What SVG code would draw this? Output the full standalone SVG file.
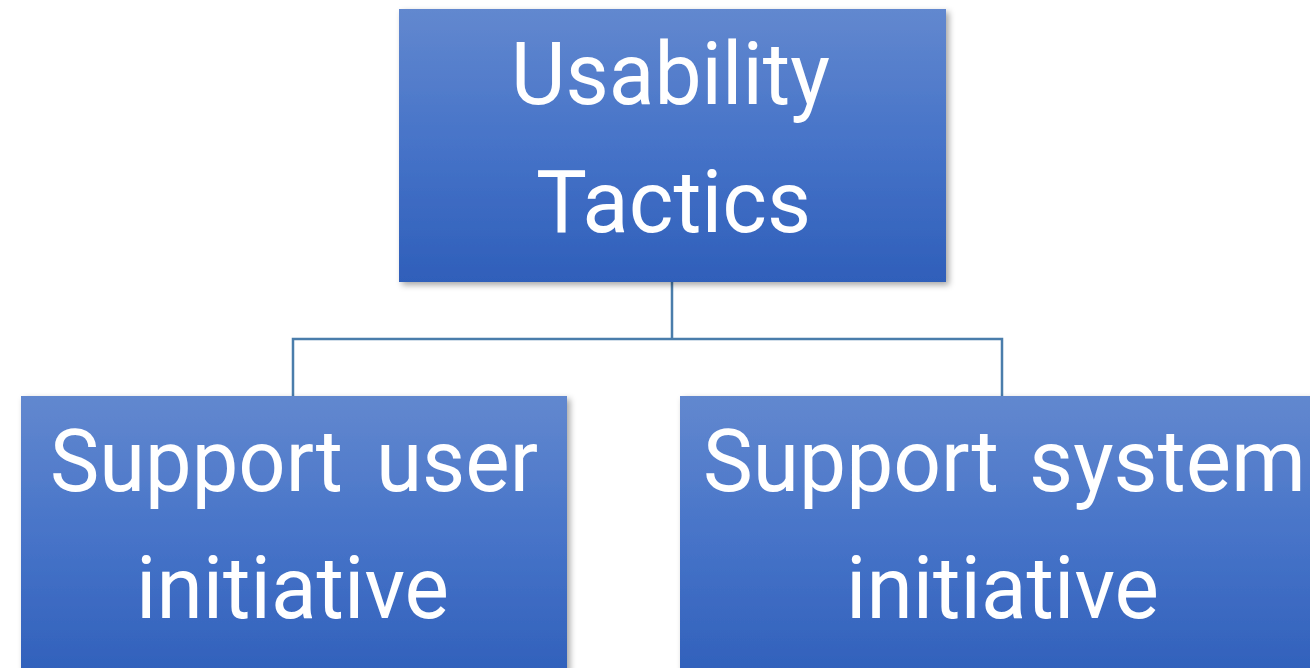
<svg xmlns="http://www.w3.org/2000/svg" width="1310" height="668" viewBox="0 0 1310 668">
<defs>
<linearGradient id="g" x1="0" y1="0" x2="0" y2="1">
<stop offset="0" stop-color="#6288cf"/>
<stop offset="0.5" stop-color="#4673c8"/>
<stop offset="1" stop-color="#2f5fba"/>
</linearGradient>
<filter id="sh" x="-5%" y="-5%" width="115%" height="120%">
<feDropShadow dx="3" dy="3" stdDeviation="3" flood-color="#000" flood-opacity="0.35"/>
</filter>
<style>
.box{fill:url(#g);filter:url(#sh)}
.t{font-family:Roboto,"Liberation Sans",sans-serif;font-size:87px;fill:#fff}
.ln{stroke:#4a7dab;stroke-width:2.5;fill:none}
</style>
</defs>
<rect width="1310" height="668" fill="#fff"/>
<g id="connectors">
<path class="ln" d="M672,282 V339 M293,396 V339 H1002 V396"/>
</g>
<g id="root">
<rect class="box" x="399" y="9" width="547" height="273"/>
<text class="t" x="511" y="104" textLength="319" lengthAdjust="spacingAndGlyphs">Usability</text>
<text class="t" x="536" y="232" textLength="275" lengthAdjust="spacingAndGlyphs">Tactics</text>
</g>
<g id="user">
<rect class="box" x="21" y="396" width="546" height="290"/>
<text class="t" x="50" y="491" textLength="293" lengthAdjust="spacingAndGlyphs">Support</text>
<text class="t" x="376" y="491" textLength="162" lengthAdjust="spacingAndGlyphs">user</text>
<text class="t" x="136" y="618" textLength="313" lengthAdjust="spacingAndGlyphs">initiative</text>
</g>
<g id="system">
<rect class="box" x="680" y="396" width="644" height="290"/>
<text class="t" x="703" y="491" textLength="296" lengthAdjust="spacingAndGlyphs">Support</text>
<text class="t" x="1029" y="491" textLength="277" lengthAdjust="spacingAndGlyphs">system</text>
<text class="t" x="846" y="618" textLength="313" lengthAdjust="spacingAndGlyphs">initiative</text>
</g>
</svg>
